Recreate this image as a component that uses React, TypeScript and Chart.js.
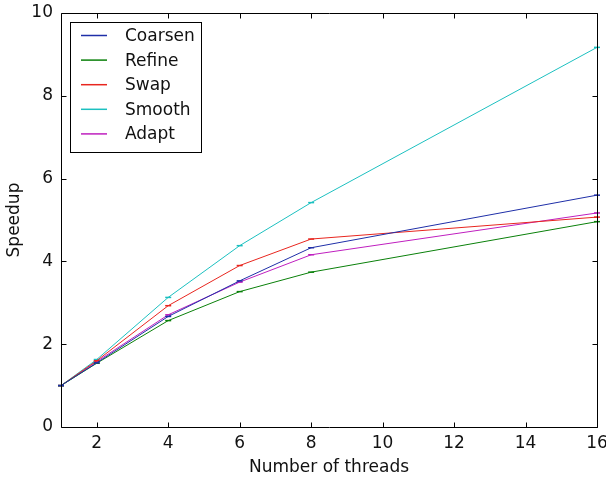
import React, { useEffect, useRef } from "react";
import { Chart, registerables } from "chart.js";

Chart.register(...registerables);

const threads = [1, 2, 4, 6, 8, 16];
const coarsen = [1, 1.55, 2.67, 3.53, 4.33, 5.6];
const refine = [1, 1.54, 2.57, 3.27, 3.74, 4.96];
const swap = [1, 1.6, 2.93, 3.9, 4.54, 5.07];
const smooth = [1, 1.63, 3.13, 4.38, 5.42, 9.17];
const adapt = [1, 1.58, 2.71, 3.5, 4.16, 5.17];

const seriesNames = ["Coarsen", "Refine", "Swap", "Smooth", "Adapt"];
const seriesValues = [coarsen, refine, swap, smooth, adapt];
const seriesColors = ["#1f2fa8", "#0a800a", "#e8261f", "#1cc0c0", "#bf1fbf"];

const xTicks = [2, 4, 6, 8, 10, 12, 14, 16];
const yTicks = [0, 2, 4, 6, 8, 10];

const FONT = "DejaVu Sans";
const FS = 17;

const framePlugin = {
  id: "framePlugin",
  afterDatasetsDraw(chart: any) {
    const { ctx, chartArea } = chart;
    const { left, right, top, bottom } = chartArea;
    const xs = chart.scales.x;
    const ys = chart.scales.y;
    ctx.save();
    ctx.strokeStyle = "#000";
    ctx.lineWidth = 1;
    const L = Math.round(left) + 0.5;
    const R = Math.round(right) + 0.5;
    const T = Math.round(top) + 0.5;
    const B = Math.round(bottom) + 0.5;
    ctx.beginPath();
    ctx.rect(L, T, R - L, B - T);
    ctx.stroke();
    const tl = 5;
    ctx.beginPath();
    xTicks.forEach((v) => {
      const px = Math.round(xs.getPixelForValue(v)) + 0.5;
      ctx.moveTo(px, B);
      ctx.lineTo(px, B - tl);
      ctx.moveTo(px, T);
      ctx.lineTo(px, T + tl);
    });
    yTicks.forEach((v) => {
      const py = Math.round(ys.getPixelForValue(v)) + 0.5;
      ctx.moveTo(L, py);
      ctx.lineTo(L + tl, py);
      ctx.moveTo(R, py);
      ctx.lineTo(R - tl, py);
    });
    ctx.stroke();

    // legend
    const bx = 70.5, by = 22.5, bw = 131, bh = 130;
    ctx.fillStyle = "#fff";
    ctx.fillRect(bx, by, bw, bh);
    ctx.strokeRect(bx, by, bw, bh);
    ctx.font = `${FS}px "${FONT}"`;
    ctx.textBaseline = "middle";
    ctx.textAlign = "left";
    chart.data.datasets.forEach((ds: any, i: number) => {
      const y = 35.5 + i * 24.6;
      ctx.strokeStyle = ds.borderColor;
      ctx.lineWidth = 1.5;
      ctx.beginPath();
      ctx.moveTo(81, y);
      ctx.lineTo(107, y);
      ctx.stroke();
      ctx.fillStyle = "#111";
      ctx.fillText(ds.label, 125, y + 1);
    });
    ctx.restore();
  },
};

export default function App() {
  const ref = useRef<HTMLCanvasElement | null>(null);
  useEffect(() => {
    document.body.style.margin = "0";
    if (!ref.current) return;
    const chart = new Chart(ref.current, {
      type: "line",
      data: {
        datasets: seriesNames.map((name, i) => ({
          label: name,
          data: threads.map((t, j) => ({ x: t, y: seriesValues[i][j] })),
          borderColor: seriesColors[i],
          backgroundColor: seriesColors[i],
          borderWidth: 1,
          pointStyle: "line",
          pointRadius: 3,
          pointBorderWidth: 1.5,
          pointBorderColor: seriesColors[i],
          tension: 0,
          clip: false as any,
        })),
      },
      options: {
        animation: false,
        responsive: false,
        events: [],
        layout: { padding: { top: 13, right: 9, left: 0, bottom: 0 } },
        plugins: { legend: { display: false }, tooltip: { enabled: false } },
        scales: {
          x: {
            type: "linear",
            min: 1,
            max: 16,
            afterBuildTicks: (s: any) => {
              s.ticks = xTicks.map((v) => ({ value: v }));
            },
            afterFit: (s: any) => {
              s.height = 54;
              s.paddingLeft = 0;
              s.paddingRight = 0;
            },
            grid: { display: true, drawOnChartArea: false, drawTicks: false },
            border: { display: false },
            ticks: {
              color: "#111",
              font: { family: FONT, size: FS },
              padding: 6,
              maxRotation: 0,
              autoSkip: false,
            },
            title: {
              display: true,
              text: "Number of threads",
              color: "#111",
              font: { family: FONT, size: FS },
              padding: { top: 0, bottom: 3 },
            },
          },
          y: {
            type: "linear",
            min: 0,
            max: 10,
            afterBuildTicks: (s: any) => {
              s.ticks = yTicks.map((v) => ({ value: v }));
            },
            afterFit: (s: any) => {
              s.width = 61;
              s.paddingTop = 0;
              s.paddingBottom = 0;
            },
            grid: { display: true, drawOnChartArea: false, drawTicks: false },
            border: { display: false },
            ticks: {
              color: "#111",
              font: { family: FONT, size: FS },
              padding: 8,
            },
            title: {
              display: true,
              text: "Speedup",
              color: "#111",
              font: { family: FONT, size: FS },
              padding: { top: 4, bottom: 0 },
            },
          },
        },
      },
      plugins: [framePlugin],
    });
    return () => chart.destroy();
  }, []);
  return (
    <div style={{ width: 606, height: 481 }}>
      <canvas ref={ref} width={606} height={481} />
    </div>
  );
}
